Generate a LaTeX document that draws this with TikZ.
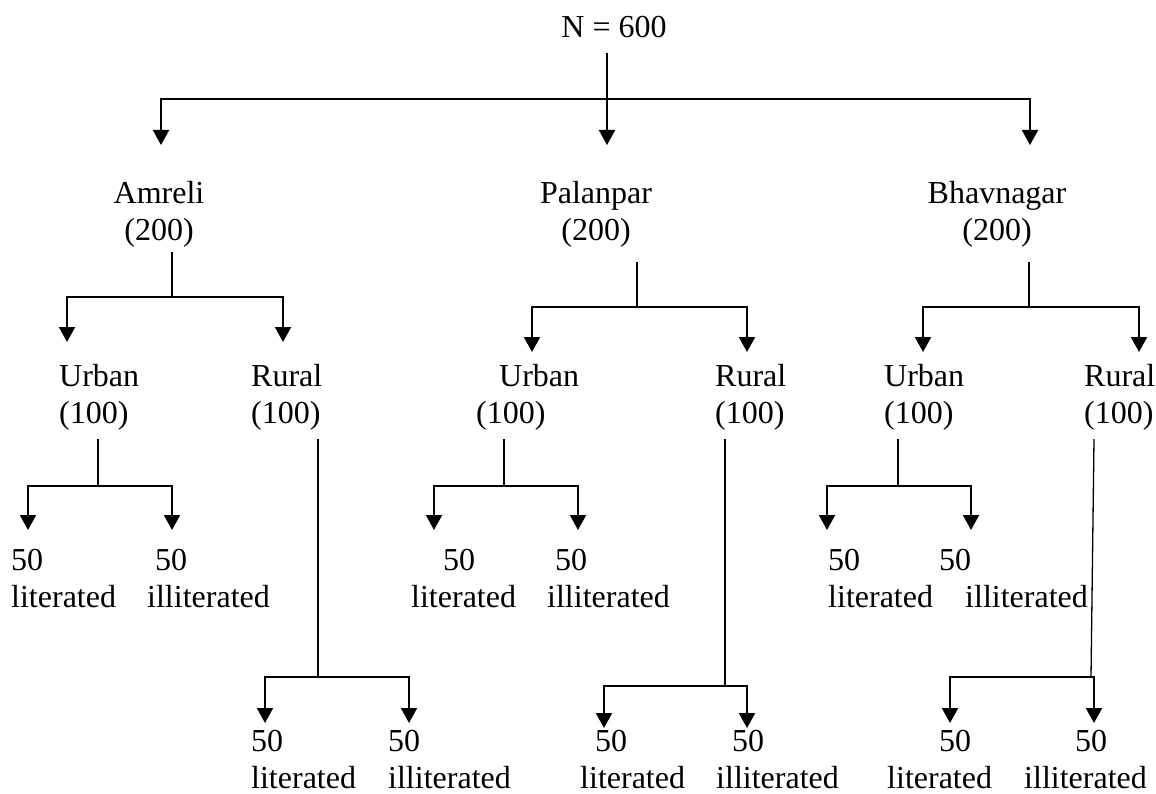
\documentclass[tikz,border=0pt]{standalone}
\usepackage{fontspec}
\setmainfont{Liberation Serif}
\usetikzlibrary{arrows.meta}

\tikzset{
  lbl/.style={inner sep=0pt, font=\fontsize{32}{37}\selectfont},
  arr/.style={line width=2pt, -{Triangle[width=16pt,length=15pt]}},
  stem/.style={line width=1.3pt}
}

\begin{document}
\begin{tikzpicture}[x=1pt,y=-1pt]
    \useasboundingbox (0,0) rectangle (1156,794);

    % root and districts (base = last line)
    \node[lbl,anchor=base] (root) at (614,38) {N = 600};
    \node[lbl,anchor=base,align=center] (amr) at (159,241) {Amreli\\(200)};
    \node[lbl,anchor=base,align=center] (pal) at (596,241) {Palanpar\\(200)};
    \node[lbl,anchor=base,align=center] (bhv) at (997,241) {Bhavnagar\\(200)};

    % urban / rural
    \node[lbl,anchor=base west,align=left] (amrU) at (59,423) {Urban\\(100)};
    \node[lbl,anchor=base west,align=left] (amrR) at (251,423) {Rural\\(100)};
    \node[lbl,anchor=base west,align=left] (palU) at (476,423) {\hspace*{23pt}Urban\\(100)};
    \node[lbl,anchor=base west,align=left] (palR) at (715,423) {Rural\\(100)};
    \node[lbl,anchor=base west,align=left] (bhvU) at (884,423) {Urban\\(100)};
    \node[lbl,anchor=base west,align=left] (bhvR) at (1084,423) {Rural\\(100)};

    % literacy leaves
    \node[lbl,anchor=base west,align=left] (amrUl) at (11,607) {50\\literated};
    \node[lbl,anchor=base west,align=left] (amrUi) at (147,607) {\hspace*{8pt}50\\illiterated};
    \node[lbl,anchor=base west,align=left] (amrRl) at (251,788) {50\\literated};
    \node[lbl,anchor=base west,align=left] (amrRi) at (388,788) {50\\illiterated};
    \node[lbl,anchor=base west,align=left] (palUl) at (411,607) {\hspace*{32pt}50\\literated};
    \node[lbl,anchor=base west,align=left] (palUi) at (547,607) {\hspace*{8pt}50\\illiterated};
    \node[lbl,anchor=base west,align=left] (palRl) at (580,788) {\hspace*{15pt}50\\literated};
    \node[lbl,anchor=base west,align=left] (palRi) at (716,788) {\hspace*{16pt}50\\illiterated};
    \node[lbl,anchor=base west,align=left] (bhvUl) at (828,607) {50\\literated};
    \node[lbl,anchor=base west,align=left] (bhvUi) at (939,607) {50\\\hspace*{26pt}illiterated};
    \node[lbl,anchor=base west,align=left] (bhvRl) at (887,788) {\hspace*{52pt}50\\literated};
    \node[lbl,anchor=base west,align=left] (bhvRi) at (1024,788) {\hspace*{51pt}50\\illiterated};

    % junctions
    \coordinate (rootJ) at (607,99);
    \coordinate (amrJ) at (172,297);
    \coordinate (palJ) at (637,307);
    \coordinate (bhvJ) at (1029,307);
    \coordinate (amrUJ) at (98,486);
    \coordinate (amrRJ) at (318,677);
    \coordinate (palUJ) at (504,486);
    \coordinate (palRJ) at (725,686);
    \coordinate (bhvUJ) at (898,486);
    \coordinate (bhvRJ) at (1091,677);

    % arrow tips
    \coordinate (amrT) at (161,145);
    \coordinate (palT) at (607,145);
    \coordinate (bhvT) at (1030,145);
    \coordinate (amrUT) at (67,342);
    \coordinate (amrRT) at (283,342);
    \coordinate (palUT) at (532,352);
    \coordinate (palRT) at (747,352);
    \coordinate (bhvUT) at (923,352);
    \coordinate (bhvRT) at (1139,352);
    \coordinate (amrUlT) at (28,530);
    \coordinate (amrUiT) at (172,530);
    \coordinate (amrRlT) at (265,723);
    \coordinate (amrRiT) at (409,723);
    \coordinate (palUlT) at (434,530);
    \coordinate (palUiT) at (578,530);
    \coordinate (palRlT) at (604,728);
    \coordinate (palRiT) at (747,728);
    \coordinate (bhvUlT) at (827,530);
    \coordinate (bhvUiT) at (971,530);
    \coordinate (bhvRlT) at (950,723);
    \coordinate (bhvRiT) at (1094,723);

    % stems
    \draw[stem] ([yshift=-15pt]root.base -| rootJ) -- (rootJ);
    \draw[stem] (amr.south -| amrJ) ++(0,4) -- (amrJ);
    \draw[stem] (pal.south -| palJ) ++(0,14) -- (palJ);
    \draw[stem] (bhv.south -| bhvJ) ++(0,14) -- (bhvJ);
    \draw[stem] (amrU.south -| amrUJ) ++(0,9) -- (amrUJ);
    \draw[stem] (amrR.south -| amrRJ) ++(0,9) -- (amrRJ);
    \draw[stem] (palU.south -| palUJ) ++(0,9) -- (palUJ);
    \draw[stem] (palR.south -| palRJ) ++(0,9) -- (palRJ);
    \draw[stem] (bhvU.south -| bhvUJ) ++(0,9) -- (bhvUJ);
    \draw[stem] (bhvR.south -| bhvRiT) ++(0,9) -- (bhvRJ);

    % branches
    \draw[arr] (rootJ) -| (amrT);
    \draw[arr] (rootJ) -- (palT);
    \draw[arr] (rootJ) -| (bhvT);
    \foreach \j/\l/\r in {amrJ/amrUT/amrRT, palJ/palUT/palRT, bhvJ/bhvUT/bhvRT,
        amrUJ/amrUlT/amrUiT, amrRJ/amrRlT/amrRiT, palUJ/palUlT/palUiT,
        palRJ/palRlT/palRiT, bhvUJ/bhvUlT/bhvUiT, bhvRJ/bhvRlT/bhvRiT} {
        \draw[arr] (\j) -| (\l);
        \draw[arr] (\j) -| (\r);
    }
\end{tikzpicture}
\end{document}
